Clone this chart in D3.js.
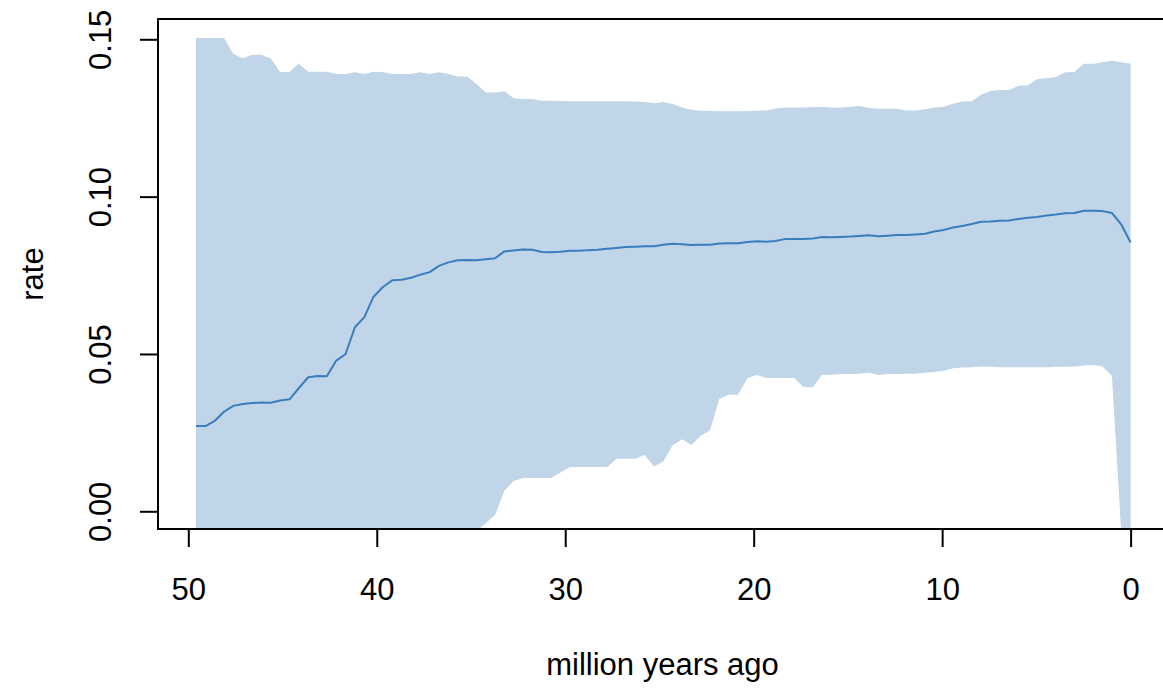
<!DOCTYPE html>
<html>
<head>
<meta charset="utf-8">
<script src="https://cdn.jsdelivr.net/npm/d3@7"></script>
<style>
  body { margin: 0; background: #fff; }
  svg { display: block; }
  text { font-family: "Liberation Sans", Arial, Helvetica, sans-serif; fill: #000; }
</style>
</head>
<body>
<svg id="chart" width="1163" height="688"></svg>
<script>
// Time points (million years ago), oldest first
const ages = [
  49.59, 49.09, 48.60, 48.10, 47.61, 47.11, 46.61, 46.12, 45.62, 45.13,
  44.63, 44.14, 43.64, 43.14, 42.65, 42.15, 41.66, 41.16, 40.66, 40.17,
  39.67, 39.18, 38.68, 38.18, 37.69, 37.19, 36.70, 36.20, 35.71, 35.21,
  34.71, 34.22, 33.72, 33.23, 32.73, 32.23, 31.74, 31.24, 30.75, 30.25,
  29.75, 29.26, 28.76, 28.27, 27.77, 27.28, 26.78, 26.28, 25.79, 25.29,
  24.80, 24.30, 23.80, 23.31, 22.81, 22.32, 21.82, 21.32, 20.83, 20.33,
  19.84, 19.34, 18.85, 18.35, 17.85, 17.36, 16.86, 16.37, 15.87, 15.37,
  14.88, 14.38, 13.89, 13.39, 12.89, 12.40, 11.90, 11.41, 10.91, 10.42,
   9.92,  9.42,  8.93,  8.43,  7.94,  7.44,  6.94,  6.45,  5.95,  5.46,
   4.96,  4.46,  3.97,  3.47,  2.98,  2.48,  1.98,  1.49,  0.99,  0.50,
   0.00
];

// Mean rate through time
const rateMean = [
  0.0271, 0.0271, 0.0287, 0.0317, 0.0335, 0.0341, 0.0344, 0.0346, 0.0345, 0.0352,
  0.0356, 0.0391, 0.0426, 0.0430, 0.0429, 0.0479, 0.0499, 0.0585, 0.0617, 0.0682,
  0.0713, 0.0734, 0.0736, 0.0742, 0.0752, 0.0760, 0.0780, 0.0791, 0.0798, 0.0799,
  0.0798, 0.0801, 0.0804, 0.0826, 0.0829, 0.0832, 0.0831, 0.0824, 0.0823, 0.0825,
  0.0828, 0.0828, 0.0830, 0.0831, 0.0834, 0.0837, 0.0840, 0.0841, 0.0842, 0.0842,
  0.0847, 0.0850, 0.0849, 0.0846, 0.0847, 0.0847, 0.0851, 0.0852, 0.0852, 0.0856,
  0.0858, 0.0857, 0.0859, 0.0865, 0.0865, 0.0865, 0.0867, 0.0872, 0.0871, 0.0872,
  0.0873, 0.0875, 0.0877, 0.0874, 0.0876, 0.0878, 0.0878, 0.0880, 0.0882, 0.0889,
  0.0894, 0.0902, 0.0907, 0.0913, 0.0920, 0.0921, 0.0923, 0.0924, 0.0929, 0.0933,
  0.0935, 0.0940, 0.0943, 0.0947, 0.0948, 0.0955, 0.0955, 0.0954, 0.0948, 0.0912,
  0.0854
];

// Lower bound of the credible interval (negative values fall below the plot region)
const rateLower = [
  -0.0100, -0.0100, -0.0100, -0.0100, -0.0100, -0.0100, -0.0100, -0.0100, -0.0100, -0.0100,
  -0.0100, -0.0100, -0.0100, -0.0100, -0.0100, -0.0100, -0.0100, -0.0100, -0.0100, -0.0100,
  -0.0100, -0.0100, -0.0100, -0.0100, -0.0100, -0.0100, -0.0100, -0.0100, -0.0100, -0.0100,
  -0.0063, -0.0038, -0.0012, 0.0065, 0.0096, 0.0106, 0.0106, 0.0106, 0.0106, 0.0123,
  0.0141, 0.0141, 0.0141, 0.0141, 0.0141, 0.0167, 0.0167, 0.0167, 0.0179, 0.0142,
  0.0158, 0.0210, 0.0229, 0.0211, 0.0240, 0.0257, 0.0358, 0.0370, 0.0370, 0.0423,
  0.0433, 0.0424, 0.0424, 0.0424, 0.0424, 0.0395, 0.0394, 0.0434, 0.0434, 0.0436,
  0.0436, 0.0437, 0.0440, 0.0433, 0.0436, 0.0436, 0.0437, 0.0437, 0.0440, 0.0443,
  0.0447, 0.0455, 0.0457, 0.0458, 0.0460, 0.0459, 0.0458, 0.0458, 0.0458, 0.0458,
  0.0458, 0.0458, 0.0459, 0.0459, 0.0460, 0.0463, 0.0465, 0.0460, 0.0430, -0.0065,
  -0.0200
];

// Upper bound of the credible interval
const rateUpper = [
  0.1504, 0.1504, 0.1504, 0.1504, 0.1453, 0.1440, 0.1451, 0.1451, 0.1439, 0.1396,
  0.1396, 0.1422, 0.1397, 0.1397, 0.1397, 0.1390, 0.1390, 0.1395, 0.1390, 0.1397,
  0.1396, 0.1390, 0.1390, 0.1390, 0.1395, 0.1390, 0.1395, 0.1390, 0.1382, 0.1382,
  0.1358, 0.1331, 0.1331, 0.1335, 0.1313, 0.1310, 0.1310, 0.1305, 0.1305, 0.1304,
  0.1303, 0.1303, 0.1303, 0.1303, 0.1303, 0.1303, 0.1303, 0.1302, 0.1301, 0.1297,
  0.1301, 0.1294, 0.1283, 0.1276, 0.1273, 0.1272, 0.1271, 0.1271, 0.1271, 0.1272,
  0.1273, 0.1274, 0.1280, 0.1283, 0.1283, 0.1283, 0.1285, 0.1285, 0.1283, 0.1283,
  0.1286, 0.1288, 0.1282, 0.1279, 0.1279, 0.1279, 0.1274, 0.1274, 0.1278, 0.1283,
  0.1286, 0.1295, 0.1302, 0.1303, 0.1324, 0.1336, 0.1339, 0.1339, 0.1352, 0.1354,
  0.1373, 0.1376, 0.1380, 0.1395, 0.1396, 0.1422, 0.1422, 0.1427, 0.1432, 0.1427,
  0.1422
];

const xTicks = [50, 40, 30, 20, 10, 0];
const xTickLabels = ["50", "40", "30", "20", "10", "0"];
const yTicks = [0, 0.05, 0.10, 0.15];
const yTickLabels = ["0.00", "0.05", "0.10", "0.15"];
const xTitle = "million years ago";
const yTitle = "rate";

// ---- layout ----
const box = { left: 158, right: 1168, top: 19, bottom: 529 };
const fontPx = 31;
const tickLen = 18;
const bandFill = "#c0d5e8";
const lineColor = "#3a7dbd";

const svg = d3.select("#chart");

const x = d3.scaleLinear().domain([50, 0]).range([188.3, 1130.6]);
const y = d3.scaleLinear().domain([0, 0.15]).range([511.3, 39.3]);

const rows = ages.map((a, i) => ({
  age: a, mean: rateMean[i], lo: rateLower[i], hi: rateUpper[i]
}));

// clip everything drawn inside the plot region
svg.append("defs").append("clipPath").attr("id", "plotClip")
  .append("rect")
  .attr("x", box.left).attr("y", box.top)
  .attr("width", box.right - box.left).attr("height", box.bottom - box.top);

const plot = svg.append("g").attr("clip-path", "url(#plotClip)");

// credible interval band
const band = d3.area()
  .x(d => x(d.age))
  .y0(d => y(d.lo))
  .y1(d => y(d.hi));

plot.append("path")
  .datum(rows)
  .attr("d", band)
  .attr("fill", bandFill)
  .attr("stroke", "none");

// mean rate line
const meanLine = d3.line()
  .x(d => x(d.age))
  .y(d => y(d.mean));

plot.append("path")
  .datum(rows)
  .attr("d", meanLine)
  .attr("fill", "none")
  .attr("stroke", lineColor)
  .attr("stroke-width", 2)
  .attr("stroke-linejoin", "round");

// plot frame
svg.append("rect")
  .attr("x", box.left).attr("y", box.top)
  .attr("width", box.right - box.left).attr("height", box.bottom - box.top)
  .attr("fill", "none")
  .attr("stroke", "#000")
  .attr("stroke-width", 2);

// x axis
const xAxis = d3.axisBottom(x)
  .tickValues(xTicks)
  .tickFormat((d, i) => xTickLabels[i])
  .tickSize(tickLen)
  .tickSizeOuter(0);

const gx = svg.append("g")
  .attr("transform", `translate(0,${box.bottom})`)
  .call(xAxis);
gx.select(".domain").remove();
gx.selectAll(".tick line").attr("stroke", "#000").attr("stroke-width", 2);
gx.selectAll(".tick text")
  .attr("y", 70.5)
  .attr("dy", null)
  .style("font-size", fontPx + "px")
  .style("font-family", '"Liberation Sans", Arial, sans-serif')
  .attr("fill", "#000");

// y axis (labels rotated parallel to the axis)
const yAxis = d3.axisLeft(y)
  .tickValues(yTicks)
  .tickFormat((d, i) => yTickLabels[i])
  .tickSize(tickLen)
  .tickSizeOuter(0);

const gy = svg.append("g")
  .attr("transform", `translate(${box.left},0)`)
  .call(yAxis);
gy.select(".domain").remove();
gy.selectAll(".tick line").attr("stroke", "#000").attr("stroke-width", 2);
gy.selectAll(".tick text")
  .attr("x", null)
  .attr("dy", null)
  .attr("transform", "translate(-47.5,0) rotate(-90)")
  .attr("text-anchor", "middle")
  .style("font-size", fontPx + "px")
  .style("font-family", '"Liberation Sans", Arial, sans-serif')
  .attr("fill", "#000");

// axis titles
svg.append("text")
  .attr("x", 662.5)
  .attr("y", 674.5)
  .attr("text-anchor", "middle")
  .style("font-size", fontPx + "px")
  .text(xTitle);

svg.append("text")
  .attr("transform", `translate(42.5,${(box.top + box.bottom) / 2}) rotate(-90)`)
  .attr("text-anchor", "middle")
  .style("font-size", fontPx + "px")
  .text(yTitle);
</script>
</body>
</html>
